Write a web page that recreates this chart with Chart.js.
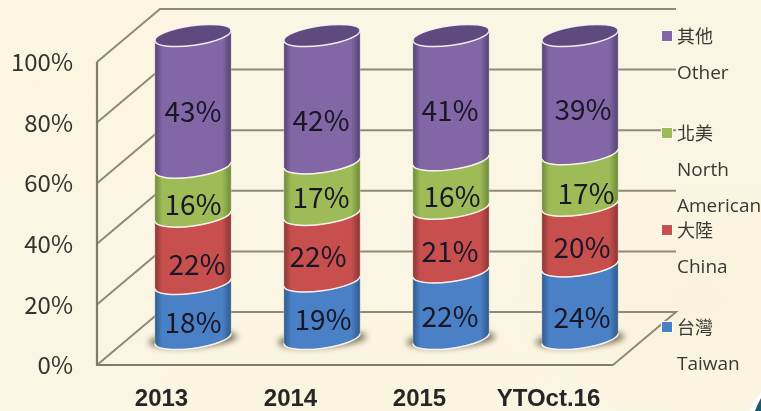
<!DOCTYPE html>
<html><head><meta charset="utf-8">
<style>
html,body{margin:0;padding:0;background:#fbf5e2;}
#wrap{position:relative;width:761px;height:411px;overflow:hidden;
background:
 radial-gradient(ellipse 180px 120px at 80px 90px,#fcf5e0 0,rgba(252,245,224,0) 100%),
 radial-gradient(ellipse 200px 130px at 700px 300px,#f9f2dc 0,rgba(249,242,220,0) 100%),
 radial-gradient(ellipse 220px 100px at 350px 395px,#faf3dd 0,rgba(250,243,221,0) 100%),
 #fbf5e3;}
canvas{position:absolute;left:0;top:0;filter:blur(0.35px);}
</style></head><body>
<div id="wrap"><canvas id="c" width="761" height="411"></canvas></div>
<script src="https://cdn.jsdelivr.net/npm/chart.js@4"></script>
<script>
const categories = ['2013','2014','2015','YTOct.16'];
const taiwan = [18,19,22,24];
const china = [22,22,21,20];
const northAmerica = [16,17,16,17];
const other = [43,42,41,39];
const seriesNames = [['台灣','Taiwan'],['大陸','China'],['北美','North','American'],['其他','Other']];
const seriesValues = [taiwan,china,northAmerica,other];
const seriesColors = ['#4a81c6','#c74f4e','#9dbb57','#8266a6'];
const edgeColors = ['#2f5788','#853533','#6c8738','#54406f'];
const capColor = '#5f4a80';
const yTicks = [0,20,40,60,80,100];
const labelNudges = [
 [[0,1],[4,5],[0,3],[0,0]],
 [[1,0],[-4,-1],[-1,-1],[-1,11]],
 [[-1,1],[-1,1],[1,2],[-1,3]],
 [[2,5],[2,2],[6,4],[3,5]]
];
const DEPTH_X = 63, DEPTH_Y = 53, BAR_SHIFT_X = 31.5, BAR_SHIFT_Y = 26.5;
const TILT = -8*Math.PI/180, RY = 9.8;
const totals = categories.map((_,i)=>seriesValues.reduce((s,a)=>s+a[i],0));
const FRAME = '#8e897a';

const frame3d = {
 id:'frame3d',
 beforeDatasetsDraw(chart){
  const {ctx,chartArea:a,scales:{y}} = chart;
  ctx.save();
  ctx.strokeStyle = FRAME; ctx.lineWidth = 2; ctx.lineCap='butt';
  yTicks.forEach(t=>{
   const p = y.getPixelForValue(t);
   ctx.beginPath();
   ctx.moveTo(a.left,p); ctx.lineTo(a.left+DEPTH_X,p-DEPTH_Y); ctx.lineTo(a.right+DEPTH_X,p-DEPTH_Y);
   if(t===0) ctx.lineTo(a.right,p);
   ctx.stroke();
  });
  ctx.lineWidth = 2.2; ctx.strokeStyle='#7f7b6d';
  ctx.beginPath();
  ctx.moveTo(a.left,a.top); ctx.lineTo(a.left,a.bottom); ctx.lineTo(a.right,a.bottom);
  ctx.stroke();
  ctx.restore();
  drawCylinders(chart);
  return false;
 },
 afterDraw(chart){
  drawLabels(chart); drawLegend(chart); drawCorner(chart);
 }
};

function tangents(a,b){
 const tR = Math.atan2(-b*Math.sin(TILT), a*Math.cos(TILT));
 return {tR, tL: tR+Math.PI};
}
function drawCylinders(chart){
 const ctx = chart.ctx;
 const m0 = chart.getDatasetMeta(0);
 ctx.save();
 m0.data.forEach(el=>{
  const cx = el.x+BAR_SHIFT_X, cy = el.base-BAR_SHIFT_Y, a = el.width/2;
  ctx.save();
  ctx.filter='blur(3px)';
  ctx.fillStyle='rgba(90,80,55,0.85)';
  ctx.beginPath(); ctx.ellipse(cx,cy+1,a+6,RY-2,TILT/2,0,Math.PI*2); ctx.fill();
  ctx.restore();
 });
 seriesValues.forEach((_,i)=>{
  const meta = chart.getDatasetMeta(i);
  meta.data.forEach(el=>{
   const cx = el.x+BAR_SHIFT_X, a = el.width/2, b = RY;
   const yT = el.y-BAR_SHIFT_Y, yB = el.base-BAR_SHIFT_Y;
   const {tR,tL} = tangents(a,b);
   const g = ctx.createLinearGradient(cx-a,0,cx+a,0);
   g.addColorStop(0,edgeColors[i]); g.addColorStop(.1,seriesColors[i]);
   g.addColorStop(.55,seriesColors[i]); g.addColorStop(.88,seriesColors[i]); g.addColorStop(1,edgeColors[i]);
   ctx.beginPath();
   ctx.ellipse(cx,yB,a,b,TILT,tR,tL,false);
   ctx.ellipse(cx,yT,a,b,TILT,tL,tR,false);
   ctx.closePath();
   ctx.fillStyle=g; ctx.fill();
   ctx.strokeStyle='rgba(255,250,245,0.35)'; ctx.lineWidth=1; ctx.stroke();
   ctx.beginPath();
   ctx.ellipse(cx,yB,a,b,TILT,tR,tL,false);
   ctx.strokeStyle='rgba(252,244,240,0.95)'; ctx.lineWidth=1.5; ctx.stroke();
   if(i===seriesValues.length-1){
    ctx.beginPath(); ctx.ellipse(cx,yT,a,b,TILT,0,Math.PI*2);
    ctx.fillStyle=capColor; ctx.fill();
    ctx.strokeStyle='rgba(250,244,245,0.95)'; ctx.lineWidth=1.5; ctx.stroke();
   }
  });
 });
 ctx.restore();
}
function drawLabels(chart){
 const ctx = chart.ctx;
 ctx.save();
 ctx.font = '28px "Noto Sans CJK TC"';
 ctx.fillStyle='#191626'; ctx.textAlign='center'; ctx.textBaseline='middle';
 seriesValues.forEach((vals,i)=>{
  chart.getDatasetMeta(i).data.forEach((el,j)=>{
   const n = labelNudges[j][i];
   ctx.fillText(vals[j]+'%', el.x+BAR_SHIFT_X+n[0], (el.y+el.base)/2-BAR_SHIFT_Y+10+n[1]);
  });
 });
 ctx.restore();
}
function drawLegend(chart){
 const ctx = chart.ctx, a = chart.chartArea;
 const boxX = a.right+49, textX = a.right+64, start = 36, block = 97, line = 36;
 ctx.save();
 ctx.textBaseline='middle'; ctx.textAlign='left';
 for(let k=0;k<seriesNames.length;k++){
  const i = seriesNames.length-1-k, y0 = start+k*block;
  ctx.fillStyle='#fffdf6'; ctx.fillRect(boxX-1,y0-6,12,12);
  ctx.fillStyle=seriesColors[i]; ctx.fillRect(boxX,y0-5,10,10);
  ctx.fillStyle='#3a3835';
  seriesNames[i].forEach((t,n)=>{
   ctx.font = n===0 ? '18px "Noto Sans CJK TC"' : '19px "Open Sans"';
   ctx.fillText(t,textX,y0+n*line+(n?2:0));
  });
 }
 ctx.restore();
}
function drawCorner(chart){
 const ctx = chart.ctx;
 ctx.save();
 ctx.beginPath(); ctx.moveTo(761,392); ctx.quadraticCurveTo(754,400,750,411); ctx.lineTo(761,411); ctx.closePath();
 ctx.fillStyle='#ffffff'; ctx.fill();
 ctx.beginPath(); ctx.moveTo(761,398); ctx.quadraticCurveTo(758,403,755,411); ctx.lineTo(761,411); ctx.closePath();
 ctx.fillStyle='#155a6e'; ctx.fill();
 ctx.restore();
}

new Chart(document.getElementById('c'),{
 type:'bar',
 data:{labels:categories,datasets:seriesValues.map((v,i)=>({
  label:seriesNames[i].join(' '),
  data:v.map((x,j)=>x/totals[j]*100),
  backgroundColor:seriesColors[i]
 }))},
 plugins:[frame3d],
 options:{
  responsive:false,animation:false,
  layout:{padding:{top:62,right:148,bottom:0,left:0}},
  plugins:{legend:{display:false},tooltip:{enabled:false}},
  categoryPercentage:1,barPercentage:77/129,
  scales:{
   x:{stacked:true,grid:{display:false},border:{display:false},
      ticks:{color:'#262626',font:{family:'"Liberation Sans"',size:24,weight:'bold'},padding:12,maxRotation:0,autoSkip:false},
      afterFit(s){s.height=46;}},
   y:{stacked:true,min:0,max:100,grid:{display:false},border:{display:false},
      afterBuildTicks(s){s.ticks=yTicks.map(v=>({value:v}));},
      ticks:{color:'#35332f',font:{family:'"Noto Sans CJK TC"',size:24},padding:16,callback:v=>v+'%'},
      afterFit(s){s.width=97;}}
  }
 }
});
</script></body></html>
